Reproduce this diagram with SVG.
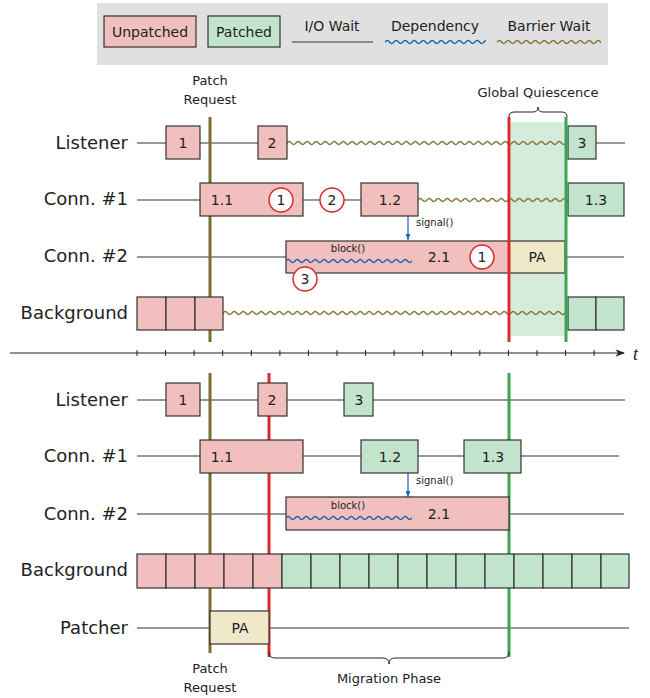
<svg xmlns="http://www.w3.org/2000/svg" width="650" height="698" viewBox="0 0 650 698">
<style>
text{font-family:"DejaVu Sans","Liberation Sans",sans-serif;fill:#222}
.lbl{font-size:18px;text-anchor:end}
.bt{font-size:14px;text-anchor:middle}
.sm{font-size:10px}
.cap{font-size:13px;text-anchor:middle}
.un{fill:#f2bfbf;stroke:#333;stroke-width:1.2}
.pa{fill:#c3e4cc;stroke:#333;stroke-width:1.2}
.pr{fill:#efe9c9;stroke:#333;stroke-width:1.2}
.ln{stroke:#333;stroke-width:1.2;fill:none}
.cir{fill:#fff;stroke:#d62a2a;stroke-width:1.5}
.olv{stroke:#7b6c33;stroke-width:3}
.red{stroke:#dc2a2a;stroke-width:3}
.grn{stroke:#3aa655;stroke-width:3}
.br{fill:none;stroke:#222;stroke-width:1}
</style>
<defs>
<pattern id="wo" width="9" height="8" patternUnits="userSpaceOnUse"><path d="M-4.5 4 Q-2.25 7 0 4 T4.5 4 T9 4 T13.5 4" fill="none" stroke="#857536" stroke-width="1.4"/></pattern>
<pattern id="wb" width="9" height="8" patternUnits="userSpaceOnUse"><path d="M-4.5 4 Q-2.25 7 0 4 T4.5 4 T9 4 T13.5 4" fill="none" stroke="#1f62b4" stroke-width="1.4"/></pattern>
<marker id="ah" viewBox="0 0 10 10" refX="10" refY="5" markerWidth="5" markerHeight="5" orient="auto"><path d="M0 1 L10 5 L0 9 Z" fill="#1f62b4"/></marker>
<marker id="ax" viewBox="0 0 10 10" refX="9" refY="5" markerWidth="8" markerHeight="8" orient="auto"><path d="M0 1 L10 5 L0 9 L3 5 Z" fill="#222"/></marker>
</defs>

<g id="legend">
<rect x="97" y="3" width="511" height="62" fill="#e0e0e0"/>
<rect x="104" y="16" width="92" height="31" class="un"/>
<text x="150" y="37" class="bt">Unpatched</text>
<rect x="208" y="16" width="72" height="31" class="pa"/>
<text x="244" y="37" class="bt">Patched</text>
<text x="332" y="31" class="bt">I/O Wait</text>
<line x1="292" y1="42" x2="373" y2="42" class="ln"/>
<text x="435" y="31" class="bt">Dependency</text>
<rect x="0" y="0" width="101" height="8" fill="url(#wb)" transform="translate(385,38)"/>
<text x="549" y="31" class="bt">Barrier Wait</text>
<rect x="0" y="0" width="104" height="8" fill="url(#wo)" transform="translate(497,38)"/>
</g>

<g id="labels">
<text x="128" y="149" class="lbl">Listener</text>
<text x="128" y="205" class="lbl">Conn. #1</text>
<text x="128" y="262" class="lbl">Conn. #2</text>
<text x="128" y="319" class="lbl">Background</text>
<text x="128" y="406" class="lbl">Listener</text>
<text x="128" y="462" class="lbl">Conn. #1</text>
<text x="128" y="520" class="lbl">Conn. #2</text>
<text x="128" y="576" class="lbl">Background</text>
<text x="128" y="634" class="lbl">Patcher</text>
</g>

<g id="top-shade">
<rect x="511" y="122" width="54" height="214" fill="#d5ecdc"/>
</g>

<g id="connectors">
<path d="M137 143 H166 M200 143 H258 M596 143 H625" class="ln"/>
<path d="M137 200 H200 M303 200 H361" class="ln"/>
<path d="M137 257 H286 M565 257 H624" class="ln"/>
<rect x="0" y="0" width="280" height="8" fill="url(#wo)" transform="translate(287,139)"/>
<rect x="0" y="0" width="150" height="8" fill="url(#wo)" transform="translate(418,196)"/>
<rect x="0" y="0" width="344" height="8" fill="url(#wo)" transform="translate(223,309)"/>
<line x1="408" y1="216" x2="408" y2="240" stroke="#1f62b4" stroke-width="1.2" marker-end="url(#ah)"/>
<path d="M137 400 H166 M200 400 H258 M287 400 H344 M373 400 H625" class="ln"/>
<path d="M137 456 H200 M303 456 H361 M418 456 H464 M521 456 H619" class="ln"/>
<path d="M137 514 H286 M509 514 H624" class="ln"/>
<path d="M137 628 H210 M269 628 H629" class="ln"/>
<line x1="408" y1="473" x2="408" y2="497" stroke="#1f62b4" stroke-width="1.2" marker-end="url(#ah)"/>
</g>

<g id="patch-request-top">
<line x1="210" y1="117" x2="210" y2="342" class="olv"/>
<text x="210" y="85" class="cap">Patch</text>
<text x="210" y="104" class="cap">Request</text>
</g>

<g id="bottom-markers">
<line x1="210" y1="373" x2="210" y2="653" class="olv"/>
<line x1="269" y1="373" x2="269" y2="657" class="red"/>
<line x1="509" y1="373" x2="509" y2="657" class="grn"/>
<path d="M269 652 Q269 658 275 658 L383 658 Q389 658 389 664 Q389 658 395 658 L503 658 Q509 658 509 652" class="br"/>
<text x="210" y="673" class="cap">Patch</text>
<text x="210" y="692" class="cap">Request</text>
<text x="389" y="683" class="cap">Migration Phase</text>
</g>

<g id="top-nodes">
<rect x="166" y="126" width="34" height="33" class="un"/><text x="183" y="148" class="bt">1</text>
<rect x="258" y="126" width="29" height="33" class="un"/><text x="272" y="148" class="bt">2</text>
<rect x="568" y="126" width="28" height="33" class="pa"/><text x="582" y="148" class="bt">3</text>
<rect x="200" y="183" width="103" height="33" class="un"/><text x="222" y="205" class="bt">1.1</text>
<circle cx="281" cy="200" r="12" class="cir"/><text x="281" y="205" class="bt">1</text>
<circle cx="332" cy="200" r="12" class="cir"/><text x="332" y="205" class="bt">2</text>
<rect x="361" y="183" width="57" height="33" class="un"/><text x="390" y="205" class="bt">1.2</text>
<rect x="568" y="183" width="56" height="33" class="pa"/><text x="596" y="205" class="bt">1.3</text>
<rect x="286" y="241" width="223" height="32" class="un"/>
<text x="348" y="252" class="sm" text-anchor="middle">block()</text>
<rect x="0" y="0" width="126" height="8" fill="url(#wb)" transform="translate(286,257)"/>
<text x="439" y="262" class="bt">2.1</text>
<circle cx="482" cy="257" r="12" class="cir"/><text x="482" y="262" class="bt">1</text>
<circle cx="305" cy="279" r="12" class="cir"/><text x="305" y="284" class="bt">3</text>
<rect x="509" y="241" width="56" height="32" class="pr"/><text x="537" y="262" class="bt">PA</text>
<text x="416" y="226" class="sm">signal()</text>
<rect x="137" y="297" width="29" height="33" class="un"/>
<rect x="166" y="297" width="29" height="33" class="un"/>
<rect x="195" y="297" width="28" height="33" class="un"/>
<rect x="568" y="297" width="28" height="33" class="pa"/>
<rect x="596" y="297" width="28" height="33" class="pa"/>
</g>

<g id="top-quiescence">
<line x1="509" y1="117" x2="509" y2="342" class="red"/>
<line x1="566" y1="117" x2="566" y2="342" class="grn"/>
<path d="M509 117 Q509 112 514 112 L533 112 Q538 112 538 107 Q538 112 543 112 L562 112 Q567 112 567 117" class="br"/>
<text x="538" y="97" class="cap">Global Quiescence</text>
</g>

<g id="axis">
<line x1="10" y1="353" x2="624" y2="353" stroke="#222" stroke-width="1.2" marker-end="url(#ax)"/>
<path d="M137 350 V356 M165.6 350 V356 M194.1 350 V356 M222.7 350 V356 M251.3 350 V356 M279.9 350 V356 M308.4 350 V356 M337 350 V356 M365.6 350 V356 M394.1 350 V356 M422.7 350 V356 M451.3 350 V356 M479.8 350 V356 M508.4 350 V356 M537 350 V356 M565.6 350 V356 M594.1 350 V356" stroke="#222" stroke-width="1"/>
<text x="633" y="360" font-size="18" font-style="italic" style="font-family:'Liberation Serif',serif">t</text>
</g>

<g id="bottom-nodes">
<rect x="166" y="383" width="34" height="33" class="un"/><text x="183" y="405" class="bt">1</text>
<rect x="258" y="383" width="29" height="33" class="un"/><text x="272" y="405" class="bt">2</text>
<rect x="344" y="383" width="29" height="33" class="pa"/><text x="359" y="405" class="bt">3</text>
<rect x="200" y="440" width="103" height="33" class="un"/><text x="222" y="462" class="bt">1.1</text>
<rect x="361" y="440" width="57" height="33" class="pa"/><text x="390" y="462" class="bt">1.2</text>
<rect x="464" y="440" width="57" height="33" class="pa"/><text x="493" y="462" class="bt">1.3</text>
<text x="416" y="484" class="sm">signal()</text>
<rect x="286" y="497" width="223" height="33" class="un"/>
<text x="348" y="509" class="sm" text-anchor="middle">block()</text>
<rect x="0" y="0" width="126" height="8" fill="url(#wb)" transform="translate(286,514)"/>
<text x="439" y="519" class="bt">2.1</text>
<rect x="137" y="554" width="29" height="34" class="un"/>
<rect x="166" y="554" width="29" height="34" class="un"/>
<rect x="195" y="554" width="29" height="34" class="un"/>
<rect x="224" y="554" width="29" height="34" class="un"/>
<rect x="253" y="554" width="29" height="34" class="un"/>
<rect x="282" y="554" width="29" height="34" class="pa"/>
<rect x="311" y="554" width="29" height="34" class="pa"/>
<rect x="340" y="554" width="29" height="34" class="pa"/>
<rect x="369" y="554" width="29" height="34" class="pa"/>
<rect x="398" y="554" width="29" height="34" class="pa"/>
<rect x="427" y="554" width="29" height="34" class="pa"/>
<rect x="456" y="554" width="29" height="34" class="pa"/>
<rect x="485" y="554" width="29" height="34" class="pa"/>
<rect x="514" y="554" width="29" height="34" class="pa"/>
<rect x="543" y="554" width="29" height="34" class="pa"/>
<rect x="572" y="554" width="29" height="34" class="pa"/>
<rect x="601" y="554" width="28" height="34" class="pa"/>
<rect x="210" y="611" width="59" height="33" class="pr"/><text x="240" y="633" class="bt">PA</text>
</g>
</svg>
